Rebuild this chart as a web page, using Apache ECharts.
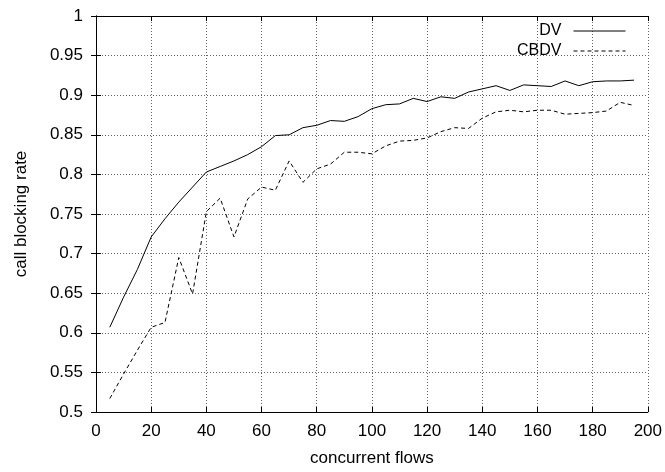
<!DOCTYPE html>
<html>
<head>
<meta charset="utf-8">
<script src="https://cdn.jsdelivr.net/npm/echarts@6/dist/echarts.min.js"></script>
<style>html,body{margin:0;padding:0;background:#fff;}#c{width:665px;height:472px;}</style>
</head>
<body>
<div id="c"></div>
<script>
const flows = [5,10,15,20,25,30,35,40,45,50,55,60,65,70,75,80,85,90,95,100,105,110,115,120,125,130,135,140,145,150,155,160,165,170,175,180,185,190,195];
const dv = [0.607,0.645,0.680,0.721,0.744,0.765,0.784,0.803,0.810,0.817,0.825,0.835,0.849,0.850,0.859,0.862,0.868,0.867,0.873,0.883,0.888,0.889,0.896,0.892,0.898,0.896,0.904,0.908,0.912,0.906,0.913,0.912,0.911,0.918,0.912,0.917,0.918,0.918,0.919];
const cbdv = [0.517,0.548,0.578,0.607,0.613,0.695,0.649,0.753,0.770,0.721,0.769,0.784,0.780,0.817,0.790,0.807,0.813,0.828,0.828,0.826,0.836,0.842,0.843,0.846,0.854,0.859,0.858,0.871,0.879,0.881,0.879,0.881,0.881,0.876,0.877,0.878,0.880,0.891,0.887];
const seriesNames = ['DV','CBDV'];
const xName = 'concurrent flows';
const yName = 'call blocking rate';

const font = 'Liberation Sans, Arial, sans-serif';
const FS = 17;
const chart = echarts.init(document.getElementById('c'));
const fmt = v => String(+v.toFixed(2));
const gridLine = {show:true, lineStyle:{color:'#666', type:[1,2], width:1}};
const axisBase = {
  axisLine:{show:true, lineStyle:{color:'#000', width:1}},
  axisTick:{show:true, inside:true, length:5, lineStyle:{color:'#000'}},
};
chart.setOption({
  animation:false,
  backgroundColor:'#fff',
  grid:{left:96, right:17, top:16, bottom:59, containLabel:false},
  legend:{
    orient:'vertical', right:34, top:18, align:'right', itemWidth:52, itemHeight:14, itemGap:4,
    itemStyle:{opacity:0, borderWidth:0},
    lineStyle:{width:1},
    textStyle:{fontFamily:font, fontSize:16, color:'#000', padding:[0,7,0,0]},
    data:seriesNames.map(n=>({name:n}))
  },
  xAxis:[
    Object.assign({type:'value', min:0, max:200, interval:20, name:xName, nameLocation:'middle', nameGap:38,
      nameTextStyle:{fontFamily:font, fontSize:FS, color:'#000'},
      axisLabel:{fontFamily:font, fontSize:FS, color:'#000', margin:11},
      splitLine:gridLine}, axisBase),
    Object.assign({type:'value', position:'top', min:0, max:200, interval:20, axisLabel:{show:false}, splitLine:{show:false}}, axisBase)
  ],
  yAxis:[
    Object.assign({type:'value', min:0.5, max:1, interval:0.05, name:yName, nameLocation:'middle', nameGap:66,
      nameTextStyle:{fontFamily:font, fontSize:FS, color:'#000'},
      axisLabel:{fontFamily:font, fontSize:FS, color:'#000', margin:13, formatter:fmt},
      splitLine:gridLine}, axisBase),
    Object.assign({type:'value', position:'right', min:0.5, max:1, interval:0.05, axisLabel:{show:false}, splitLine:{show:false}}, axisBase)
  ],
  series:[
    {name:seriesNames[0], type:'line', data:flows.map((x,i)=>[x,dv[i]]), symbol:'none',
      lineStyle:{color:'#000', width:1, type:'solid'}, itemStyle:{color:'#000'}},
    {name:seriesNames[1], type:'line', data:flows.map((x,i)=>[x,cbdv[i]]), symbol:'none',
      lineStyle:{color:'#000', width:1, type:[4,3]}, itemStyle:{color:'#000'}}
  ]
});
</script>
</body>
</html>
